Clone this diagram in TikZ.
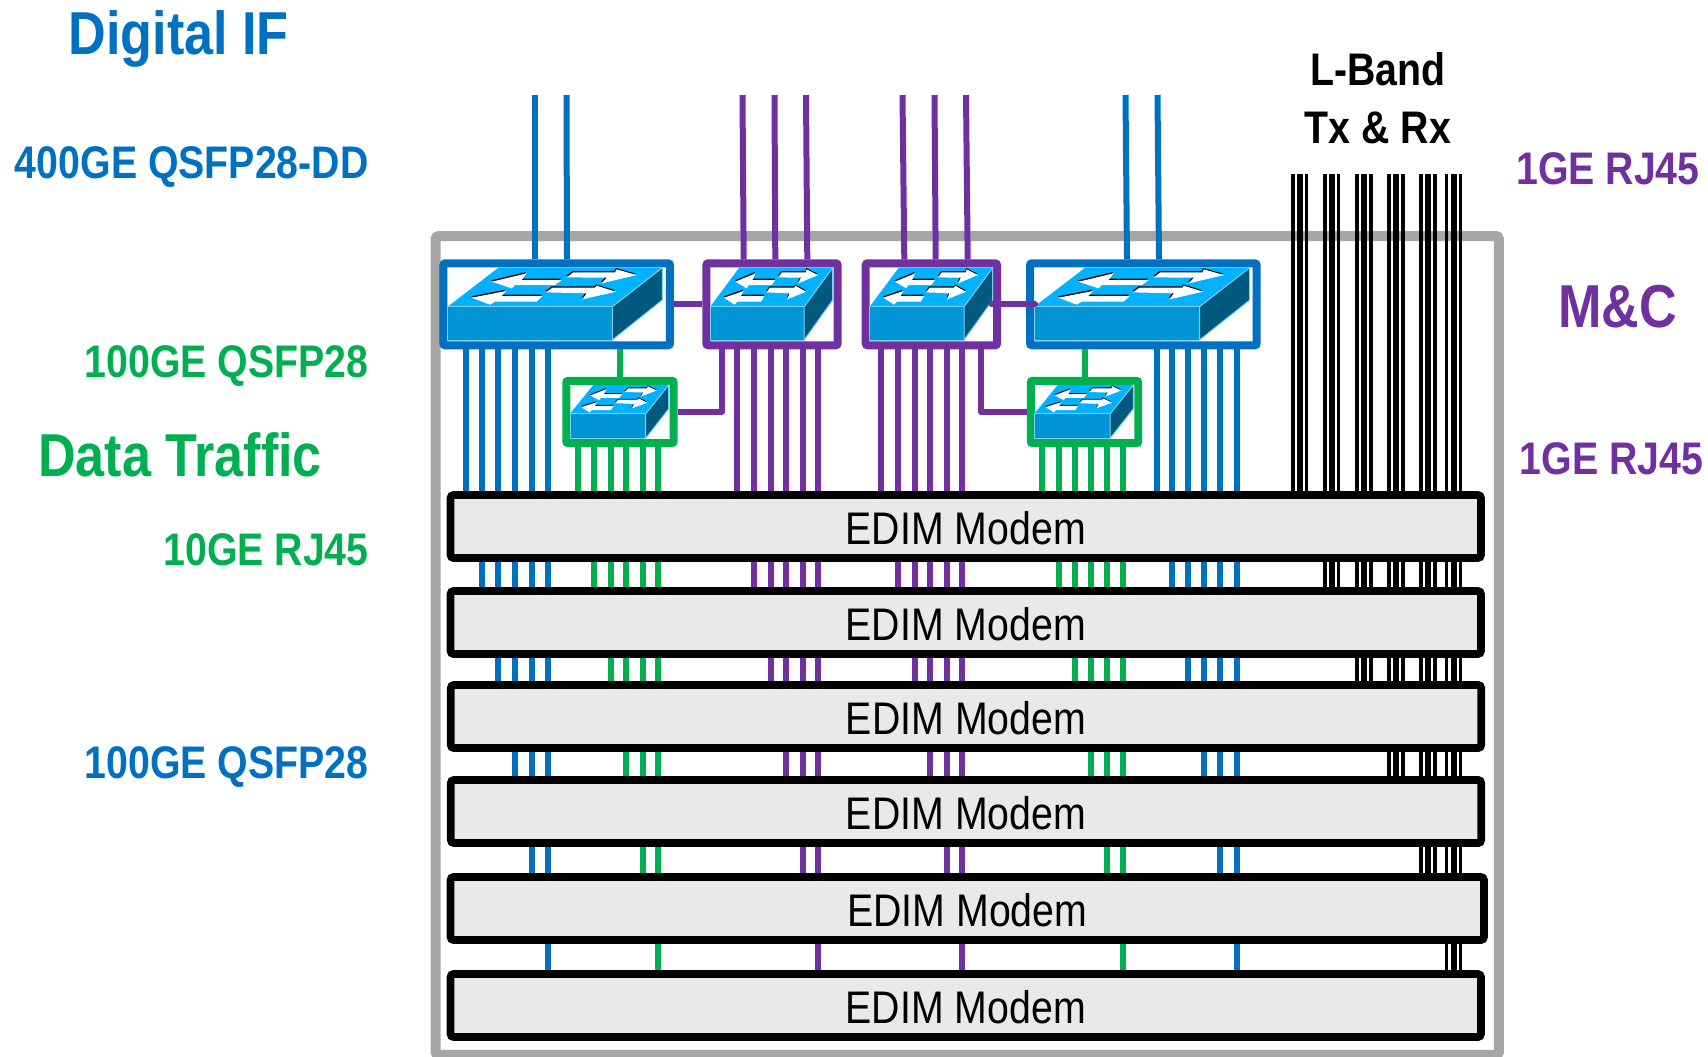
\documentclass[tikz,border=0pt]{standalone}
\usepackage{fontspec}
\setmainfont{Liberation Sans}[FakeStretch=0.86]
\usetikzlibrary{positioning}

\definecolor{ifblue}{HTML}{0070C0}
\definecolor{mcpurple}{HTML}{7030A0}
\definecolor{datagreen}{HTML}{00B050}
\definecolor{chassisgray}{HTML}{A6A6A6}
\definecolor{modemgray}{HTML}{E9E9E9}
\definecolor{icontop}{HTML}{00B2FF}
\definecolor{iconfront}{HTML}{0096D6}
\definecolor{iconside}{HTML}{005A80}
\definecolor{iconedge}{HTML}{7FD0F0}

\def\switcharrows{
  (132,175)--(237,200)--(222,180)--(342,180)--(322,165)--(202,165)--(192,155)--cycle
  (357,188)--(377,203)--(502,203)--(507,212)--(567,195)--(462,170)--(477,187)--cycle
  (72,127)--(175,147)--(162,132)--(285,132)--(267,115)--(142,115)--(127,106)--cycle
  (295,143)--(314,157)--(442,157)--(447,163)--(505,145)--(404,122)--(417,140)--cycle
}
% left, bottom, width, height of the icon
\newcommand{\switchicon}[4]{
  \begin{scope}[shift={(#1,#2)},xscale={#3/644},yscale={-#4/217}]
    \fill[icontop] (0,100)--(152,217)--(644,217)--(494,100)--cycle;
    \fill[iconfront,draw=iconedge,line width=0.02cm] (0,0) rectangle (494,100);
    \fill[iconside,draw=iconedge,line width=0.02cm] (494,0)--(494,100)--(644,217)--(644,120)--cycle;
    \fill[black,shift={(-2,4)}] \switcharrows;
    \fill[white] \switcharrows;
  \end{scope}
}
% style, upper node, lower node, x positions
\newcommand{\wirerun}[4]{
  \foreach \tapx in {#4}{
    \coordinate (tap) at (\tapx,0);
    \draw[#1] (#2.south -| tap) -- (#3.north -| tap);
  }
}

\begin{document}
\begin{tikzpicture}[
  x=0.02cm,y=-0.02cm,
  chassis/.style={
    draw=chassisgray,
    line width=0.2cm,
    rounded corners=0.06cm,
    minimum width=21.27cm,
    minimum height=16.38cm,
    inner sep=0pt
  },
  modem/.style={
    draw=black,
    fill=modemgray,
    line width=0.155cm,
    rounded corners=0.06cm,
    minimum width=20.61cm,
    minimum height=1.26cm,
    inner sep=0pt,
    text height=0.72cm,
    font=\fontsize{26}{30}\selectfont
  },
  switch box/.style={
    fill=white,
    line width=0.16cm,
    rounded corners=0.04cm,
    inner sep=0pt
  },
  wide switch/.style={switch box,draw=ifblue,minimum width=4.534cm,minimum height=1.64cm},
  mc switch/.style={switch box,draw=mcpurple,minimum width=2.628cm,minimum height=1.64cm},
  data switch/.style={switch box,draw=datagreen,minimum width=2.15cm,minimum height=1.248cm},
  wire/.style={line width=0.12cm,line join=round},
  thin wire/.style={black,line width=0.065cm},
  mid wire/.style={black,line width=0.12cm},
  side text/.style={font=\bfseries\fontsize{26}{33}\selectfont,inner sep=0pt,align=center},
  big text/.style={font=\bfseries\fontsize{34.5}{40}\selectfont,inner sep=0pt}
]
  \clip (0,0) rectangle (1708,1056);

  \node[chassis] (chassis) at (967.25,645.5) {};

  \node[side text,ifblue,anchor=east] (if-port) at (369,167) {400GE QSFP28-DD};
  \node[big text,ifblue] (if-title) at (178.6,38.5) {Digital IF};
  \node[side text,datagreen,anchor=east] (data-port-a) at (369,366) {100GE QSFP28};
  \node[big text,datagreen] (data-title) at (180,455) {Data Traffic};
  \node[side text,datagreen,anchor=east] (data-port-b) at (369,550) {10GE RJ45};
  \node[side text,ifblue,anchor=east] (if-port-b) at (369,767) {100GE QSFP28};
  \node[side text] (lband-title) at (1378,98) {L-Band\\Tx \& Rx};
  \node[side text,mcpurple,anchor=east] (mc-port-a) at (1700,169) {1GE RJ45};
  \node[big text,mcpurple] (mc-title) at (1617.6,307) {M\&C};
  \node[side text,mcpurple,anchor=east] (mc-port-b) at (1703.6,458.6) {1GE RJ45};

  \node[modem] (modem-1) at (965.75,526.5) {EDIM Modem};
  \node[modem] (modem-2) at (965.75,622.5) {EDIM Modem};
  \node[modem] (modem-3) at (966,716.5) {EDIM Modem};
  \node[modem] (modem-4) at (966,811.5) {EDIM Modem};
  \node[modem,minimum width=20.67cm] (modem-5) at (967.25,908.5) {EDIM Modem};
  \node[modem] (modem-6) at (965.75,1005.5) {EDIM Modem};

  \node[wide switch] (sw-if-a) at (556.65,304.3) {};
  \node[mc switch] (sw-mc-a) at (772,304.3) {};
  \node[mc switch] (sw-mc-b) at (931.35,304.3) {};
  \node[wide switch] (sw-if-b) at (1143.35,304.3) {};
  \node[data switch] (sw-data-a) at (620,412) {};
  \node[data switch] (sw-data-b) at (1084.5,412) {};

  \switchicon{447.7}{340}{214.6}{72.3}
  \switchicon{710.3}{340}{122.4}{72.3}
  \switchicon{869.7}{340}{123}{72.3}
  \switchicon{1034.3}{340}{215.4}{72.3}
  \switchicon{570}{438.3}{98.7}{53.3}
  \switchicon{1034.3}{438.3}{99}{53.3}

  % feeds from the top
  \foreach \topx/\botx/\swname/\wirecol in {
    535/535/sw-if-a/ifblue,566.5/567/sw-if-a/ifblue,
    742.5/743.7/sw-mc-a/mcpurple,774.5/775.3/sw-mc-a/mcpurple,806/807.3/sw-mc-a/mcpurple,
    902.5/904.3/sw-mc-b/mcpurple,934.5/935.7/sw-mc-b/mcpurple,966/967.7/sw-mc-b/mcpurple,
    1125.5/1127/sw-if-b/ifblue,1157.5/1159/sw-if-b/ifblue}{
    \coordinate (feed) at (\topx,95);
    \coordinate (tap) at (\botx,0);
    \draw[wire,\wirecol] (feed) -- (\swname.north -| tap);
  }
  \foreach \topx in {1293,1306.7,1325,1338.7,1357,1371,1389,1403,1421,1435,1446.7,1460.3}{
    \coordinate (feed) at (\topx,174);
    \draw[thin wire] (feed) -- (modem-1.north -| feed);
  }
  \foreach \topx in {1299.7,1332,1364,1396,1428,1453.5}{
    \coordinate (feed) at (\topx,174);
    \draw[mid wire] (feed) -- (modem-1.north -| feed);
  }

  % switches down to the first modem
  \wirerun{wire,ifblue}{sw-if-a}{modem-1}{465.7,482,498,515,531.7,548}
  \wirerun{wire,datagreen}{sw-data-a}{modem-1}{578,594,610.5,626,642.7,658}
  \wirerun{wire,mcpurple}{sw-mc-a}{modem-1}{737.3,754,770.7,786,802.7,818}
  \wirerun{wire,mcpurple}{sw-mc-b}{modem-1}{881.3,898,914.7,930,946.7,962}
  \wirerun{wire,datagreen}{sw-data-b}{modem-1}{1042,1058.7,1075,1090.7,1107,1122.7}
  \wirerun{wire,ifblue}{sw-if-b}{modem-1}{1157,1172.3,1188.3,1203.7,1220,1236.7}

  % between the modems
  \wirerun{wire,ifblue}{modem-1}{modem-2}{482,498,515,531.7,548}
  \wirerun{wire,ifblue}{modem-2}{modem-3}{498,515,531.7,548}
  \wirerun{wire,ifblue}{modem-3}{modem-4}{515,531.7,548}
  \wirerun{wire,ifblue}{modem-4}{modem-5}{531.7,548}
  \wirerun{wire,ifblue}{modem-5}{modem-6}{548}

  \wirerun{wire,datagreen}{modem-1}{modem-2}{594,610.5,626,642.7,658}
  \wirerun{wire,datagreen}{modem-2}{modem-3}{610.5,626,642.7,658}
  \wirerun{wire,datagreen}{modem-3}{modem-4}{626,642.7,658}
  \wirerun{wire,datagreen}{modem-4}{modem-5}{642.7,658}
  \wirerun{wire,datagreen}{modem-5}{modem-6}{658}

  \wirerun{wire,mcpurple}{modem-1}{modem-2}{754,770.7,786,802.7,818}
  \wirerun{wire,mcpurple}{modem-2}{modem-3}{770.7,786,802.7,818}
  \wirerun{wire,mcpurple}{modem-3}{modem-4}{786,802.7,818}
  \wirerun{wire,mcpurple}{modem-4}{modem-5}{802.7,818}
  \wirerun{wire,mcpurple}{modem-5}{modem-6}{818}

  \wirerun{wire,mcpurple}{modem-1}{modem-2}{898,914.7,930,946.7,962}
  \wirerun{wire,mcpurple}{modem-2}{modem-3}{914.7,930,946.7,962}
  \wirerun{wire,mcpurple}{modem-3}{modem-4}{930,946.7,962}
  \wirerun{wire,mcpurple}{modem-4}{modem-5}{946.7,962}
  \wirerun{wire,mcpurple}{modem-5}{modem-6}{962}

  \wirerun{wire,datagreen}{modem-1}{modem-2}{1058.7,1075,1090.7,1107,1122.7}
  \wirerun{wire,datagreen}{modem-2}{modem-3}{1075,1090.7,1107,1122.7}
  \wirerun{wire,datagreen}{modem-3}{modem-4}{1090.7,1107,1122.7}
  \wirerun{wire,datagreen}{modem-4}{modem-5}{1107,1122.7}
  \wirerun{wire,datagreen}{modem-5}{modem-6}{1122.7}

  \wirerun{wire,ifblue}{modem-1}{modem-2}{1172.3,1188.3,1203.7,1220,1236.7}
  \wirerun{wire,ifblue}{modem-2}{modem-3}{1188.3,1203.7,1220,1236.7}
  \wirerun{wire,ifblue}{modem-3}{modem-4}{1203.7,1220,1236.7}
  \wirerun{wire,ifblue}{modem-4}{modem-5}{1220,1236.7}
  \wirerun{wire,ifblue}{modem-5}{modem-6}{1236.7}

  % L-band
  \wirerun{thin wire}{modem-1}{modem-2}{1325,1338.7,1357,1371,1389,1403,1421,1435,1446.7,1460.3}
  \wirerun{mid wire}{modem-1}{modem-2}{1332,1364,1396,1428,1453.5}
  \wirerun{thin wire}{modem-2}{modem-3}{1357,1371,1389,1403,1421,1435,1446.7,1460.3}
  \wirerun{mid wire}{modem-2}{modem-3}{1364,1396,1428,1453.5}
  \wirerun{thin wire}{modem-3}{modem-4}{1389,1403,1421,1435,1446.7,1460.3}
  \wirerun{mid wire}{modem-3}{modem-4}{1396,1428,1453.5}
  \wirerun{thin wire}{modem-4}{modem-5}{1421,1435,1446.7,1460.3}
  \wirerun{mid wire}{modem-4}{modem-5}{1428,1453.5}
  \wirerun{thin wire}{modem-5}{modem-6}{1446.7,1460.3}
  \wirerun{mid wire}{modem-5}{modem-6}{1453.5}

  % links between the switches
  \draw[wire,mcpurple] (sw-if-a.east) -- (sw-mc-a.west);
  \draw[wire,mcpurple,line cap=round] ([xshift=-0.19cm]sw-mc-b.east) -- ([xshift=0.18cm]sw-if-b.west);
  \draw[wire,datagreen] (sw-if-a.south -| sw-data-a.north) -- (sw-data-a.north);
  \draw[wire,datagreen] (sw-if-b.south -| sw-data-b.north) -- (sw-data-b.north);
  \coordinate (elbow-a) at (721.7,0);
  \coordinate (elbow-b) at (981.3,0);
  \draw[wire,mcpurple] (sw-mc-a.south -| elbow-a) |- (sw-data-a.east);
  \draw[wire,mcpurple] (sw-mc-b.south -| elbow-b) |- (sw-data-b.west);
\end{tikzpicture}
\end{document}
